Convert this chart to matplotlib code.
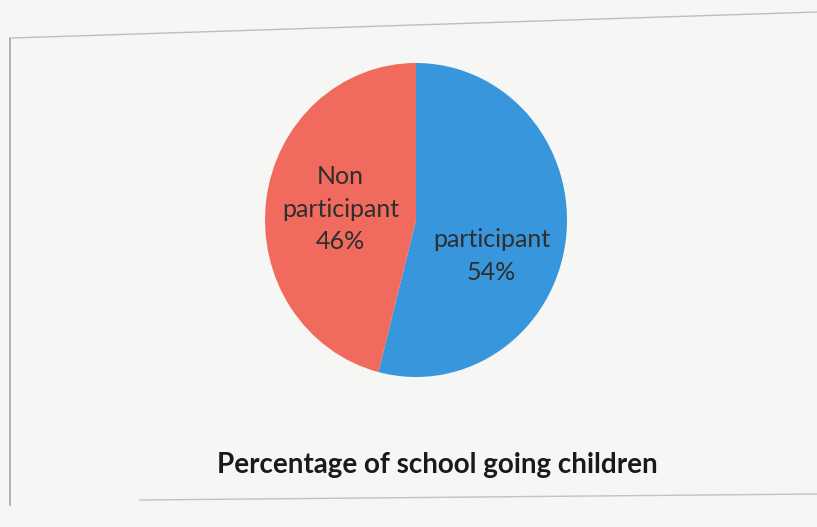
import matplotlib
matplotlib.use("Agg")
import matplotlib.pyplot as plt
from matplotlib.lines import Line2D

categories = ["participant", "Non\nparticipant"]
values = [54, 46]
colors = ["#3796dc", "#f06a5d"]
title = "Percentage of school going children"

W, H = 817, 527
fig = plt.figure(figsize=(W / 100, H / 100), dpi=100)
fig.patch.set_facecolor("#f6f6f4")

# frame lines of the photographed slide
fig.add_artist(Line2D([12 / W, 817 / W], [1 - 38 / H, 1 - 12 / H], color="#b8c0c0", lw=1.0))
fig.add_artist(Line2D([10 / W, 10 / W], [1 - 38 / H, 1 - 505 / H], color="#a0a8a8", lw=1.2))
fig.add_artist(Line2D([140 / W, 817 / W], [1 - 500 / H, 1 - 494 / H], color="#c0c4c4", lw=1.0))

cx, cy, rx, ry = 416, 220, 151, 157
ax = fig.add_axes([(cx - rx) / W, 1 - (cy + ry) / H, 2 * rx / W, 2 * ry / H])
ax.set_facecolor("none")
wedges, _ = ax.pie(values, colors=colors, startangle=90, counterclock=False,
                   radius=1.0, wedgeprops=dict(linewidth=0))
ax.set_xlim(-1, 1)
ax.set_ylim(-1, 1)
ax.set_aspect("auto")
ax.axis("off")

label_pos = [(0.50, -0.23), (-0.50, 0.07)]
for cat, val, (lx, ly) in zip(categories, values, label_pos):
    ax.text(lx, ly, f"{cat}\n{val}%", ha="center", va="center",
            fontsize=18, color="#2e2e2e", family="Lato", linespacing=1.5)

fig.text(437 / W, 1 - 465 / H, title, ha="center", va="center",
         fontsize=20, fontweight="bold", color="#1a1a1a", family="Lato")

fig.savefig("out.png", dpi=100, facecolor=fig.get_facecolor())
